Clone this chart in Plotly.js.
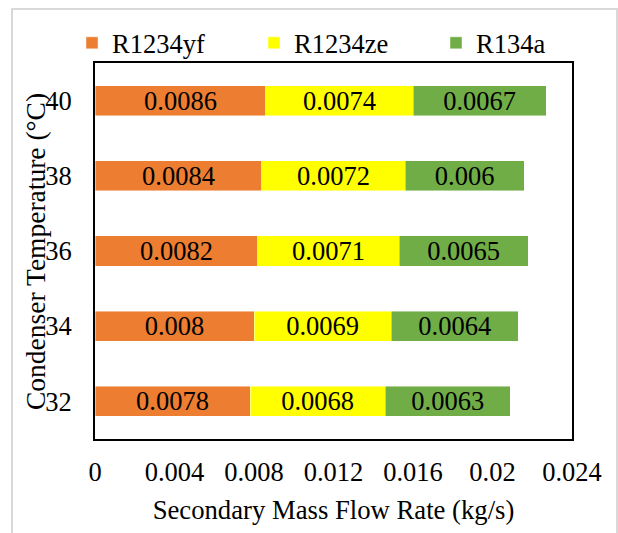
<!DOCTYPE html>
<html>
<head>
<meta charset="utf-8">
<script src="https://cdn.plot.ly/plotly-3.0.1.min.js"></script>
<style>
html,body{margin:0;padding:0;background:#fff;overflow:hidden;}
#wrap{position:relative;width:618px;height:533px;overflow:hidden;}
#chart{position:absolute;left:0;top:0;width:618px;height:533px;}
#frame{position:absolute;left:11px;top:8px;width:603px;height:560px;border:2px solid #d9d9d9;pointer-events:none;}
</style>
</head>
<body>
<div id="wrap"><div id="chart"></div><div id="frame"></div></div>
<script>
const temps = ['32', '34', '36', '38', '40'];
const r1234yf = [0.0078, 0.008, 0.0082, 0.0084, 0.0086];
const r1234ze = [0.0068, 0.0069, 0.0071, 0.0072, 0.0074];
const r134a = [0.0063, 0.0064, 0.0065, 0.006, 0.0067];
const seriesNames = ['R1234yf', 'R1234ze', 'R134a'];
const xTicks = [0, 0.004, 0.008, 0.012, 0.016, 0.02, 0.024];

const FONT = 'Liberation Serif, Times New Roman, serif';
const colors = ['#ED7D31', '#FFFF00', '#70AD47'];
const allSeries = [r1234yf, r1234ze, r134a];

const traces = allSeries.map((vals, i) => ({
  type: 'bar',
  orientation: 'h',
  name: seriesNames[i],
  y: temps,
  x: vals,
  text: vals.map(v => String(v)),
  textposition: 'inside',
  insidetextanchor: 'middle',
  textangle: 0,
  constraintext: 'none',
  textfont: {family: FONT, size: 26.5, color: '#000'},
  marker: {color: colors[i], line: {color: 'rgba(255,255,255,0.6)', width: 0.75}},
  hoverinfo: 'x+name'
}));

const layout = {
  width: 618,
  height: 533,
  margin: {l: 95, r: 46, t: 63, b: 94},
  paper_bgcolor: '#fff',
  plot_bgcolor: '#fff',
  barmode: 'stack',
  bargap: 0.6,
  font: {family: FONT, size: 26, color: '#000'},
  showlegend: true,
  legend: {
    orientation: 'h',
    x: -0.040, xanchor: 'left',
    y: 1.053, yanchor: 'middle',
    entrywidth: 137, entrywidthmode: 'pixels',
    font: {family: FONT, size: 26.5, color: '#000'},
    bgcolor: 'rgba(0,0,0,0)',
    traceorder: 'normal'
  },
  annotations: [{
    text: 'Condenser Temperature (°C)',
    textangle: -90,
    xref: 'paper', yref: 'paper',
    x: -0.1258, y: 0.5,
    xanchor: 'center', yanchor: 'middle',
    showarrow: false,
    font: {family: FONT, size: 27.5, color: '#000'}
  }],
  xaxis: {
    range: [0, 0.024],
    tickvals: xTicks,
    ticktext: xTicks.map(v => String(v)),
    showgrid: false,
    zeroline: false,
    showline: true,
    mirror: true,
    linecolor: '#000',
    linewidth: 2,
    ticks: '',
    ticklabelstandoff: 8,
    tickfont: {family: FONT, size: 26.5, color: '#000'},
    title: {text: 'Secondary Mass Flow Rate (kg/s)', font: {family: FONT, size: 26.7, color: '#000'}, standoff: 15}
  },
  yaxis: {
    type: 'category',
    categoryorder: 'array',
    categoryarray: temps,
    showgrid: false,
    zeroline: false,
    showline: true,
    mirror: true,
    linecolor: '#000',
    linewidth: 2,
    ticks: '',
    ticklabelstandoff: 16,
    tickfont: {family: FONT, size: 26.5, color: '#000'}
  }
};

Plotly.newPlot('chart', traces, layout, {displayModeBar: false, staticPlot: true});
</script>
</body>
</html>
